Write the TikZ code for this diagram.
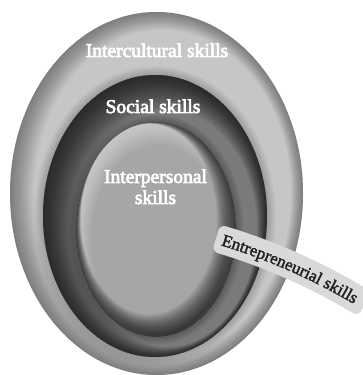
\documentclass[tikz,border=0pt]{standalone}
\usepackage{fontspec}
\setmainfont{Liberation Serif}
\newfontfamily\labfont{Liberation Serif}[FakeBold=3.5]
\newfontfamily\boxfont{Liberation Serif}[FakeBold=2]
\usetikzlibrary{calc,decorations.text}
\definecolor{outerbase}{HTML}{C6C6C8}
\definecolor{midbase}{HTML}{7A7A7C}
\definecolor{innerbase}{HTML}{A6A6A8}
\definecolor{boxfill}{HTML}{D9D9DB}
\definecolor{boxtext}{HTML}{222222}
\newcommand\entfont{\boxfont\fontsize{17}{17}\selectfont}
\tikzset{
  ringlabel/.style={text=white, font=\labfont\fontsize{19.5}{21}\selectfont, inner sep=0pt, align=center},
  darkring/.style={black, even odd rule},
  lightring/.style={white, even odd rule}
}
\begin{document}
\begin{tikzpicture}[x=1pt,y=1pt]
\useasboundingbox (0,0) rectangle (362,375);
% ---------- outer ellipse ----------
\coordinate (Oc) at (156.5,181.5);
\coordinate (Mc) at (155,159);
\coordinate (Ic) at (156,145.5);
\fill[outerbase] (Oc) ellipse [x radius=146.5, y radius=181.5];
\begin{scope}
  \clip (Oc) ellipse [x radius=146.5, y radius=181.5];
  \foreach \k in {1,...,20}{
    \pgfmathsetmacro\rx{146.5-0.9*\k}
    \pgfmathsetmacro\ry{181.5-0.9*\k}
    \pgfmathsetmacro\sx{156.5+0.3*\k}
    \fill[darkring, opacity=0.018] (Oc) ellipse [x radius=152, y radius=187]
      (\sx,181.5) ellipse [x radius=\rx, y radius=\ry];
  }
  \foreach \k in {1,...,8}{
    \pgfmathsetmacro\rx{112+1.1*\k}
    \pgfmathsetmacro\ry{141+1.1*\k}
    \fill[darkring, opacity=0.025] (Mc) ellipse [x radius=\rx, y radius=\ry]
      (Mc) ellipse [x radius=112, y radius=141];
  }
\end{scope}
% ---------- middle ellipse ----------
\fill[midbase] (Mc) ellipse [x radius=112, y radius=141];
\begin{scope}
  \clip (Mc) ellipse [x radius=112, y radius=141];
  \foreach \k in {1,...,25}{
    \pgfmathsetmacro\rx{112-0.9*\k}
    \pgfmathsetmacro\ry{141-0.9*\k}
    \pgfmathsetmacro\sx{155+0.5*\k}
    \pgfmathsetmacro\sy{159-0.5*\k}
    \fill[darkring, opacity=0.037] (Mc) ellipse [x radius=117, y radius=146]
      (\sx,\sy) ellipse [x radius=\rx, y radius=\ry];
  }
  \foreach \k in {1,...,7}{
    \pgfmathsetmacro\rx{80+1.1*\k}
    \pgfmathsetmacro\ry{107.5+1.1*\k}
    \fill[darkring, opacity=0.035] (Ic) ellipse [x radius=\rx, y radius=\ry]
      (Ic) ellipse [x radius=80, y radius=107.5];
  }
\end{scope}
% ---------- inner ellipse ----------
\fill[innerbase] (Ic) ellipse [x radius=80, y radius=107.5];
\begin{scope}
  \clip (Ic) ellipse [x radius=80, y radius=107.5];
  \foreach \k in {1,...,18}{
    \pgfmathsetmacro\rx{80-0.7*\k}
    \pgfmathsetmacro\ry{107.5-0.7*\k}
    \pgfmathsetmacro\sx{156+0.15*\k}
    \pgfmathsetmacro\sy{145.5-0.6*\k}
    \fill[lightring, opacity=0.03] (Ic) ellipse [x radius=85, y radius=112]
      (\sx,\sy) ellipse [x radius=\rx, y radius=\ry];
  }
  \foreach \k in {1,...,16}{
    \pgfmathsetmacro\rx{80-0.75*\k}
    \pgfmathsetmacro\ry{107.5-0.75*\k}
    \pgfmathsetmacro\sx{156-0.45*\k}
    \pgfmathsetmacro\sy{145.5+0.65*\k}
    \fill[darkring, opacity=0.065] (Ic) ellipse [x radius=85, y radius=112]
      (\sx,\sy) ellipse [x radius=\rx, y radius=\ry];
  }
\end{scope}
% ---------- labels ----------
\node[ringlabel, anchor=base] (inter) at (157,318) {Intercultural skills};
\node[ringlabel, anchor=base] (social) at (153,262) {Social skills};
\node[ringlabel] (interp) at (155.5,188.2) {Interpersonal\\skills};
% ---------- entrepreneurial band ----------
\coordinate (C) at (37.45,-466.1);
\fill[boxfill, rounded corners=6] ($(C)+(73.5:643)$)
  arc[start angle=73.5, end angle=58.6, radius=643]
  -- ($(C)+(58.6:615)$)
  arc[start angle=58.6, end angle=73.5, radius=615] -- cycle;
\path[decorate, decoration={text along path, text align=center, text color=boxtext,
  text={|\entfont|Entrepreneurial skills}}]
  ($(C)+(73.3:623.5)$) arc[start angle=73.3, end angle=59.1, radius=623.5];
\end{tikzpicture}
\end{document}
